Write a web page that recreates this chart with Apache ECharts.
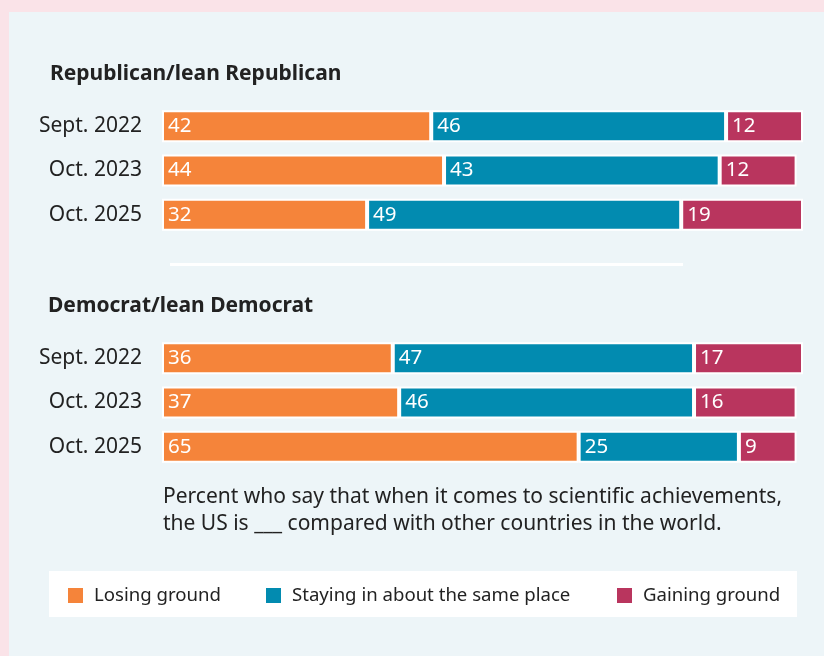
<!DOCTYPE html>
<html>
<head>
    <meta charset="utf-8">
    <title>US scientific achievements</title>
    <script src="https://cdn.jsdelivr.net/npm/echarts@6/dist/echarts.min.js"></script>
    <style>
        html, body { margin: 0; padding: 0; background: #fae3e8; }
    </style>
</head>
<body>
<div id="main" style="width: 824px;height:656px;"></div>
<script type="text/javascript">
    // data
    var years = ['Sept. 2022', 'Oct. 2023', 'Oct. 2025'];
    var seriesNames = ['Losing ground', 'Staying in about the same place', 'Gaining ground'];
    var colors = ['#f5843a', '#028bb0', '#b9355e'];

    var repLosing = [42, 44, 32];
    var repSame = [46, 43, 49];
    var repGaining = [12, 12, 19];

    var demLosing = [36, 37, 65];
    var demSame = [47, 46, 25];
    var demGaining = [17, 16, 9];

    var font = '"Noto Sans", "Open Sans", sans-serif';
    var myChart = echarts.init(document.getElementById('main'));

    function barSeries(name, values, idx, colorIdx) {
        return {
            name: name,
            type: 'bar',
            stack: 'g' + idx,
            xAxisIndex: idx,
            yAxisIndex: idx,
            barWidth: 32,
            data: values,
            itemStyle: {color: colors[colorIdx], borderColor: '#fff', borderWidth: 2},
            label: {
                show: true,
                position: 'insideLeft',
                distance: 6,
                color: '#fff',
                fontSize: 20.5,
                fontFamily: font
            },
            emphasis: {disabled: true}
        };
    }

    function yAxis(idx) {
        return {
            type: 'category',
            gridIndex: idx,
            data: years,
            inverse: true,
            axisLine: {show: false},
            axisTick: {show: false},
            axisLabel: {color: '#222', fontSize: 21, fontFamily: font, margin: 20}
        };
    }

    function xAxis(idx) {
        return {
            type: 'value',
            gridIndex: idx,
            min: 0,
            max: 100,
            show: false
        };
    }

    function legendItem(i, left) {
        return {
            left: left,
            top: 586,
            padding: 0,
            data: [seriesNames[i]],
            icon: 'rect',
            itemWidth: 17,
            itemHeight: 17,
            itemGap: 0,
            selectedMode: false,
            textStyle: {color: '#222', fontSize: 18.6, fontFamily: font, padding: [0, 0, 0, 5]}
        };
    }

    var option = {
        animation: false,
        backgroundColor: '#fae3e8',
        color: colors,
        graphic: [
            {type: 'rect', shape: {x: 9, y: 12, width: 830, height: 660}, style: {fill: '#edf5f8'}, z: -10},
            {type: 'rect', shape: {x: 170, y: 263, width: 513, height: 3}, style: {fill: '#ffffff'}},
            {type: 'rect', shape: {x: 49, y: 571, width: 748, height: 46}, style: {fill: '#ffffff'}, z: -5},
            {type: 'text', left: 50, top: 64, style: {text: 'Republican/lean Republican', fill: '#222', font: 'bold 21px ' + font}},
            {type: 'text', left: 48, top: 296, style: {text: 'Democrat/lean Democrat', fill: '#222', font: 'bold 21px ' + font}},
            {type: 'text', left: 163, top: 484, style: {
                text: 'Percent who say that when it comes to scientific achievements,\nthe US is ___ compared with other countries in the world.',
                fill: '#222', font: '21px ' + font, lineHeight: 27
            }}
        ],
        legend: [legendItem(0, 66), legendItem(1, 264), legendItem(2, 615)],
        grid: [
            {left: 162, width: 641, top: 104, height: 133},
            {left: 162, width: 641, top: 336, height: 133}
        ],
        xAxis: [xAxis(0), xAxis(1)],
        yAxis: [yAxis(0), yAxis(1)],
        series: [
            barSeries(seriesNames[0], repLosing, 0, 0),
            barSeries(seriesNames[1], repSame, 0, 1),
            barSeries(seriesNames[2], repGaining, 0, 2),
            barSeries(seriesNames[0], demLosing, 1, 0),
            barSeries(seriesNames[1], demSame, 1, 1),
            barSeries(seriesNames[2], demGaining, 1, 2)
        ]
    };

    myChart.setOption(option);
</script>
</body>
</html>
